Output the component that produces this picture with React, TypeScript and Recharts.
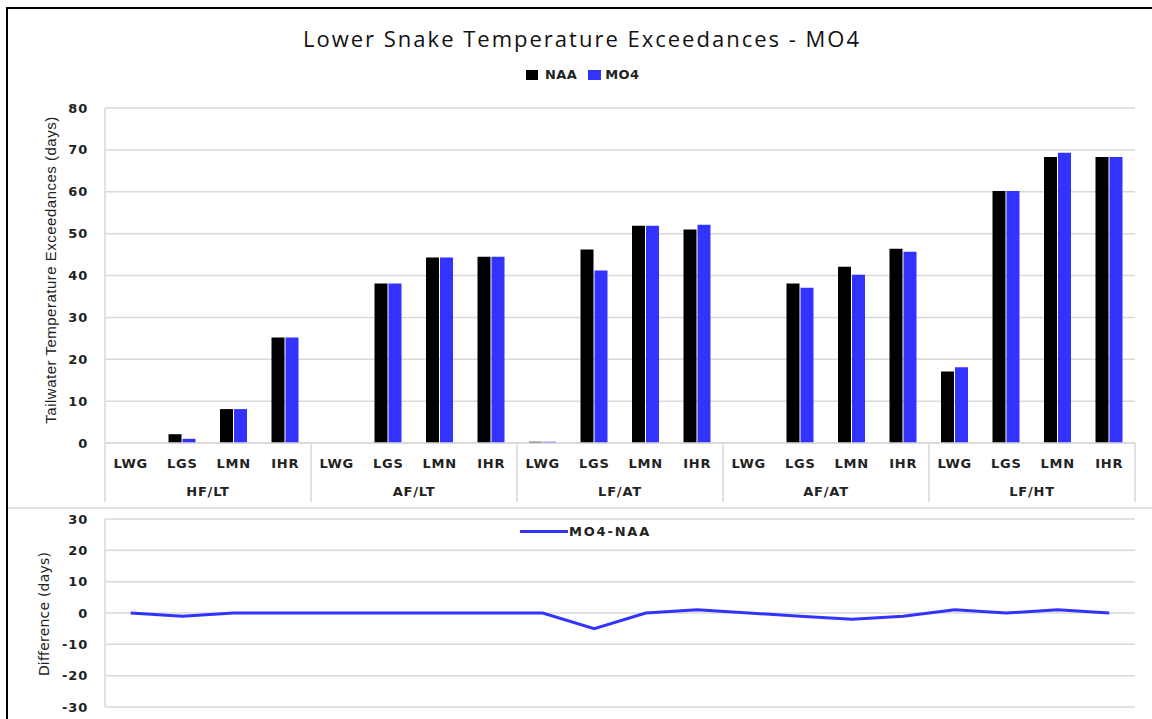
import { BarChart, Bar, LineChart, Line, XAxis, YAxis, CartesianGrid } from 'recharts';

const sites = ['LWG', 'LGS', 'LMN', 'IHR'];
const groups = ['HF/LT', 'AF/LT', 'LF/AT', 'AF/AT', 'LF/HT'];

// tailwater temperature exceedances (days), 4 sites per flow/temperature case
const naaDays = [0, 2.1, 8.1, 25.2, 0, 38.1, 44.3, 44.5, 0.3, 46.2, 51.9, 51, 0, 38.1, 42.1, 46.4, 17.1, 60.2, 68.3, 68.3];
const mo4Days = [0, 1, 8.1, 25.2, 0, 38.1, 44.3, 44.5, 0.3, 41.2, 51.9, 52.1, 0, 37.1, 40.2, 45.7, 18.1, 60.2, 69.3, 68.3];
const diffDays = [0, -1, 0, 0, 0, 0, 0, 0, 0, -5, 0, 1, 0, -1, -2, -1, 1, 0, 1, 0];

const topTicks = [0, 10, 20, 30, 40, 50, 60, 70, 80];
const diffTicks = [-30, -20, -10, 0, 10, 20, 30];

const data = groups.flatMap((g, gi) =>
  sites.map((s, si) => {
    const i = gi * 4 + si;
    return { site: s, group: g, naa: naaDays[i], mo4: mo4Days[i], diff: diffDays[i] };
  })
);

const W = 1152;
const PLOT_LEFT = 105;
const PLOT_RIGHT = 1135;
const TOP_PLOT_TOP = 108;
const TOP_PLOT_BOTTOM = 443;
const BAND = (PLOT_RIGHT - PLOT_LEFT) / data.length;
const GRID = '#d9d9d9';
const BLUE = '#3333ff';
const tickFont = { fontFamily: 'DejaVu Sans', fontSize: 13, fontWeight: 'bold' as const, fill: '#222', letterSpacing: 0.8 };

const CategoryTick = ({ x, payload }: any) => {
  const i = payload.index;
  return (
    <g>
      <text x={x} y={468} textAnchor="middle" {...tickFont}>{payload.value}</text>
      {i % 4 === 1 && (
        <text x={x + BAND / 2} y={496} textAnchor="middle" {...tickFont}>{groups[Math.floor(i / 4)]}</text>
      )}
      {i % 4 === 0 && (
        <line x1={x - BAND / 2} x2={x - BAND / 2} y1={TOP_PLOT_BOTTOM} y2={502} stroke={GRID} strokeWidth={1.5} />
      )}
      {i === data.length - 1 && (
        <line x1={x + BAND / 2} x2={x + BAND / 2} y1={TOP_PLOT_BOTTOM} y2={502} stroke={GRID} strokeWidth={1.5} />
      )}
    </g>
  );
};

export default function App() {
  return (
    <div style={{ position: 'absolute', left: 0, top: 0, width: W, height: 719, background: '#fff', overflow: 'hidden' }}>
      {/* frame */}
      <div style={{ position: 'absolute', left: 6, top: 7, width: 1200, height: 800, border: '2px solid #000' }} />
      <div style={{ position: 'absolute', left: 8, top: 507, width: 1150, height: 2, background: '#e3e3e3' }} />

      <div style={{ position: 'absolute', left: 0, top: 23, width: 1164, textAlign: 'center', fontFamily: 'Open Sans', fontSize: 22, letterSpacing: 2, color: '#111' }}>
        Lower Snake Temperature Exceedances - MO4
      </div>

      <div style={{ position: 'absolute', left: 526, top: 67, display: 'flex', alignItems: 'center', fontFamily: 'DejaVu Sans', fontSize: 13, fontWeight: 'bold', letterSpacing: 0.4, color: '#222' }}>
        <span style={{ width: 12, height: 10, background: '#000', marginRight: 7 }} />
        <span style={{ marginRight: 11 }}>NAA</span>
        <span style={{ width: 13, height: 10, background: BLUE, marginRight: 4 }} />
        <span>MO4</span>
      </div>

      <div style={{ position: 'absolute', left: 50, top: 270, width: 0, height: 0 }}>
        <div style={{ position: 'absolute', transform: 'translate(-50%, -50%) rotate(-90deg)', whiteSpace: 'nowrap', fontFamily: 'Liberation Sans', fontSize: 15, letterSpacing: 0.5, color: '#222' }}>
          Tailwater Temperature Exceedances (days)
        </div>
      </div>

      <div style={{ position: 'absolute', left: 44, top: 614, width: 0, height: 0 }}>
        <div style={{ position: 'absolute', transform: 'translate(-50%, -50%) rotate(-90deg)', whiteSpace: 'nowrap', fontFamily: 'DejaVu Sans', fontSize: 14, letterSpacing: 0.2, color: '#222' }}>
          Difference (days)
        </div>
      </div>

      <div style={{ position: 'absolute', left: 0, top: 0 }}>
        <BarChart
          width={W}
          height={510}
          data={data}
          margin={{ top: TOP_PLOT_TOP, right: W - PLOT_RIGHT, bottom: 7, left: PLOT_LEFT - 40 }}
          barGap={1}
          barSize={13}
        >
          <CartesianGrid vertical={false} stroke={GRID} strokeWidth={1.5} />
          <XAxis
            dataKey="site"
            height={60}
            interval={0}
            tickLine={false}
            axisLine={{ stroke: GRID, strokeWidth: 1.5 }}
            tick={<CategoryTick />}
          />
          <YAxis
            width={40}
            domain={[0, 80]}
            ticks={topTicks}
            tickLine={false}
            tickSize={0}
            tickMargin={17}
            axisLine={{ stroke: GRID, strokeWidth: 1.5 }}
            tick={tickFont}
          />
          <YAxis yAxisId="frame" orientation="right" width={0} tick={false} tickLine={false} axisLine={{ stroke: GRID, strokeWidth: 1.5 }} />
          <Bar dataKey="naa" name="NAA" fill="#000" isAnimationActive={false} />
          <Bar dataKey="mo4" name="MO4" fill={BLUE} isAnimationActive={false} />
        </BarChart>
      </div>

      <div style={{ position: 'absolute', left: 0, top: 509 }}>
        <LineChart
          width={W}
          height={210}
          data={data}
          margin={{ top: 10, right: W - PLOT_RIGHT, bottom: 12, left: PLOT_LEFT - 40 }}
        >
          <CartesianGrid vertical={false} stroke={GRID} strokeWidth={1.5} />
          <XAxis dataKey="site" hide padding={{ left: BAND / 2, right: BAND / 2 }} />
          <YAxis
            width={40}
            domain={[-30, 30]}
            ticks={diffTicks}
            tickLine={false}
            tickSize={0}
            tickMargin={17}
            axisLine={{ stroke: GRID, strokeWidth: 1.5 }}
            tick={tickFont}
          />
          <YAxis yAxisId="frame" orientation="right" width={0} tick={false} tickLine={false} axisLine={{ stroke: GRID, strokeWidth: 1.5 }} />
          <Line dataKey="diff" name="MO4-NAA" stroke={BLUE} strokeWidth={3} dot={false} isAnimationActive={false} />
        </LineChart>
      </div>

      <div style={{ position: 'absolute', left: 520, top: 524, display: 'flex', alignItems: 'center', fontFamily: 'DejaVu Sans', fontSize: 13, fontWeight: 'bold', letterSpacing: 1.8, color: '#222' }}>
        <span style={{ width: 48, height: 3, background: BLUE, marginRight: 1 }} />
        <span>MO4-NAA</span>
      </div>
    </div>
  );
}
